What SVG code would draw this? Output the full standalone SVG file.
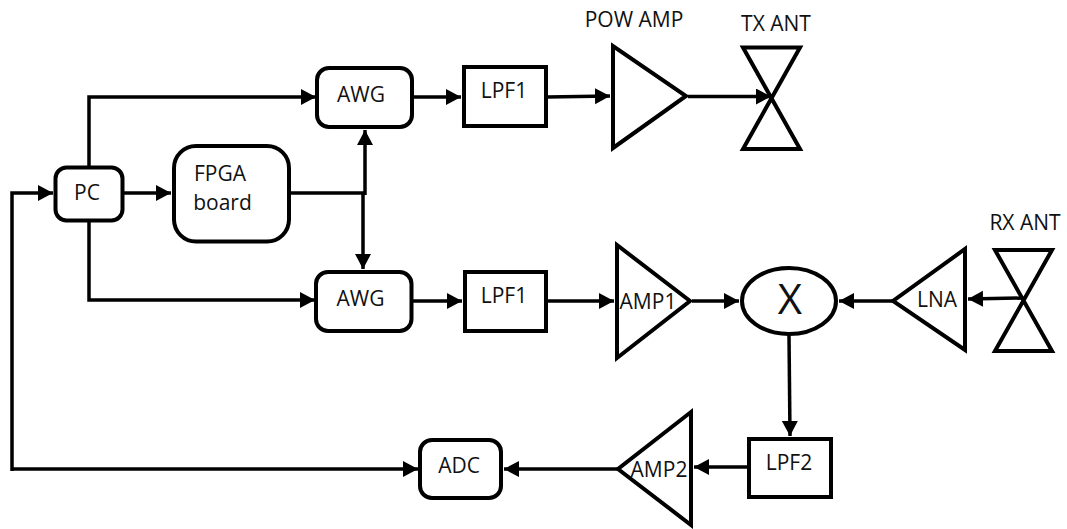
<svg xmlns="http://www.w3.org/2000/svg" width="1067" height="529" viewBox="0 0 1067 529">
<style>
.s{fill:#fff;stroke:#000;stroke-width:4}
.t{fill:none;stroke:#000;stroke-width:4;stroke-linejoin:miter}
.c{fill:none;stroke:#000;stroke-width:3.500;marker-end:url(#a)}
.p{fill:none;stroke:#000;stroke-width:3.500}
text{font-family:"Open Sans","Noto Sans","Liberation Sans",sans-serif;font-size:21px;fill:#111;text-anchor:middle}
</style>
<defs><marker id="a" markerUnits="userSpaceOnUse" markerWidth="16" markerHeight="17" refX="15" refY="8" orient="auto"><path d="M0 0L15 8L0 16z" fill="#000"/></marker></defs>
<rect width="1067" height="529" fill="#fff"/>
<g id="connectors">
<path class="c" d="M89 166V97H316"/>
<path class="c" d="M89 221V300H315"/>
<path class="c" d="M12 469H418"/>
<path class="c" d="M12 471V193H53"/>
<path class="c" d="M124 193H171"/>
<path class="p" d="M290 193H365"/>
<path class="c" d="M365 195V130"/>
<path class="c" d="M363 193V269"/>
<path class="c" d="M413 97H461"/>
<path class="c" d="M413 301H462"/>
<path class="c" d="M547 97L610 96"/>
<path class="c" d="M547 301H614"/>
<path class="c" d="M688 96.500H771"/>
<path class="c" d="M692 301H739"/>
<path class="c" d="M892 301H839"/>
<path class="c" d="M1023 298L968 299"/>
<path class="c" d="M789 335L790 436"/>
<path class="c" d="M748 467H694"/>
<path class="c" d="M617 469H504"/>
</g>
<g id="pc"><rect class="s" x="55.500" y="167.500" width="67" height="53" rx="11"/><text x="87" y="200">PC</text></g>
<g id="fpga"><rect class="s" x="174" y="146" width="115" height="95.500" rx="22"/><text x="220" y="181">FPGA</text><text x="222.500" y="210">board</text></g>
<g id="awg1"><rect class="s" x="317" y="68" width="95" height="59" rx="12"/><text x="361" y="102">AWG</text></g>
<g id="awg2"><rect class="s" x="316" y="272" width="95.500" height="59" rx="12"/><text x="360.500" y="306">AWG</text></g>
<g id="lpf1a"><rect class="s" x="464" y="67" width="82" height="59"/><text x="504" y="98">LPF1</text></g>
<g id="lpf1b"><rect class="s" x="465" y="272" width="81" height="59"/><text x="504" y="303">LPF1</text></g>
<g id="powamp"><path class="t" d="M613 46V148L686 96z"/><text x="634" y="27">POW AMP</text></g>
<g id="txant"><path class="t" d="M743 47.500H800L743 149H800z"/><text x="776" y="31">TX ANT</text></g>
<g id="amp1"><path class="t" d="M617 245V358L690 301z"/><text x="648" y="309">AMP1</text></g>
<g id="mixer"><ellipse class="s" cx="789" cy="301" rx="47" ry="33"/><text x="790" y="314" style="font-size:42px">X</text></g>
<g id="lna"><path class="t" d="M965 249V350L893 301z"/><text x="937" y="307">LNA</text></g>
<g id="rxant"><path class="t" d="M995 250H1052L995 351H1052z"/><text x="1025" y="230">RX ANT</text></g>
<g id="lpf2"><rect class="s" x="749" y="439" width="82" height="58"/><text x="789" y="470">LPF2</text></g>
<g id="amp2"><path class="t" d="M691 412V525L618 469z"/><text x="659" y="477">AMP2</text></g>
<g id="adc"><rect class="s" x="420" y="440" width="81" height="58" rx="12"/><text x="459" y="473">ADC</text></g>
</svg>
